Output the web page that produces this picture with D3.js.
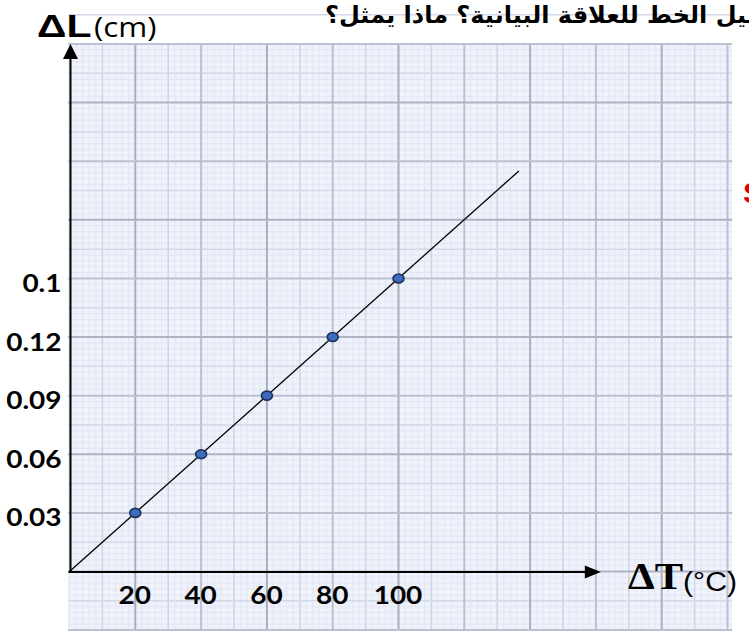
<!DOCTYPE html>
<html>
<head>
<meta charset="utf-8">
<script src="https://cdn.jsdelivr.net/npm/d3@7"></script>
<style>
body { margin: 0; background: #fff; }
svg { display: block; }
</style>
</head>
<body>
<script>
// measured values (ΔT in °C, ΔL in cm)
var deltaT = [20, 40, 60, 80, 100];
var deltaL = [0.03, 0.06, 0.09, 0.12, 0.15];
var xTickValues = [20, 40, 60, 80, 100];
var xTickLabels = ["20", "40", "60", "80", "100"];
var yTickValues = [0.03, 0.06, 0.09, 0.12, 0.15];
var yTickLabels = ["0.03", "0.06", "0.09", "0.12", "0.1"];
// hand drawn best-fit line, from the origin up past the last point
var fitLineT = [0, 136.6];
var fitLineL = [0, 0.205];
var titleText = "ما ميل الخط للعلاقة البيانية؟ ماذا يمثل؟";

var W = 749, H = 641;
var STRETCH = 1.12; // the picture is a bit wider than tall
var TICK_FONT = "Lato, 'Liberation Sans', sans-serif";

var x = d3.scaleLinear().domain([0, 200]).range([69.5, 727.5]);
var y = d3.scaleLinear().domain([0, 0.27]).range([571.5, 44]);

var svg = d3.select("body")
    .append("svg")
    .attr("width", W)
    .attr("height", H);

// graph paper
var paper = svg.append("g").attr("class", "paper");
paper.append("rect")
    .attr("x", x(-0.45))
    .attr("y", y(0.2705))
    .attr("width", x(201.4) - x(-0.45))
    .attr("height", y(-0.03) - y(0.2705))
    .attr("fill", "#eff2fb");

var minorX = d3.range(0, 101).map(function (i) { return i * 2; });
var minorY = d3.range(-10, 91).map(function (i) { return i * 0.003; });
var majorX = d3.range(1, 11).map(function (i) { return i * 20; });
var majorY = d3.range(-1, 10).map(function (i) { return i * 0.03; });

function vLines(vals, color, width) {
    paper.selectAll(null)
        .data(vals)
        .enter()
        .append("line")
        .attr("x1", function (d) { return x(d); })
        .attr("x2", function (d) { return x(d); })
        .attr("y1", y(0.2705))
        .attr("y2", y(-0.03))
        .attr("stroke", typeof color === "function" ? color : function () { return color; })
        .attr("stroke-width", width);
}
function hLines(vals, color, width) {
    paper.selectAll(null)
        .data(vals)
        .enter()
        .append("line")
        .attr("x1", x(-0.45))
        .attr("x2", x(201.4))
        .attr("y1", function (d) { return y(d); })
        .attr("y2", function (d) { return y(d); })
        .attr("stroke", typeof color === "function" ? color : function () { return color; })
        .attr("stroke-width", width);
}
vLines(minorX, "#e2e6f3", 1);
hLines(minorY, "#e2e6f3", 1);
vLines(majorX.map(function (d) { return d - 10; }), "#d0d5e6", 1.5);
hLines(majorY.map(function (d) { return d + 0.015; }), "#d4d9ea", 1.5);
vLines(majorX, function (d) { return (d / 20) % 2 ? "#a9aebf" : "#bcc1d2"; }, 2);
hLines(majorY, function (d) { return Math.round(d / 0.03) % 2 ? "#bcc1d2" : "#aeb3c4"; }, 2);

// tick labels through d3 axes (no tick marks, no domain)
function stretchText(sel) {
    sel.each(function () {
        var t = d3.select(this);
        t.attr("x", (+t.attr("x") || 0) / STRETCH)
            .attr("transform", "scale(" + STRETCH + ",1)");
    });
}
var yAxis = d3.axisLeft(y)
    .tickValues(yTickValues)
    .tickFormat(function (d, i) { return yTickLabels[i]; })
    .tickSize(0)
    .tickPadding(8);
svg.append("g")
    .attr("transform", "translate(" + x(0) + ",0)")
    .call(yAxis)
    .attr("font-size", 25)
    .attr("font-family", TICK_FONT)
    .attr("font-weight", "bold")
    .call(function (g) { g.select(".domain").remove(); })
    .selectAll("text")
    .attr("fill", "#000")
    .attr("y", 5)
    .call(stretchText);

var xAxis = d3.axisBottom(x)
    .tickValues(xTickValues)
    .tickFormat(function (d, i) { return xTickLabels[i]; })
    .tickSize(0)
    .tickPadding(14.5);
svg.append("g")
    .attr("transform", "translate(0," + y(0) + ")")
    .call(xAxis)
    .attr("font-size", 25)
    .attr("font-family", TICK_FONT)
    .attr("font-weight", "bold")
    .call(function (g) { g.select(".domain").remove(); })
    .selectAll("text")
    .attr("fill", "#000")
    .attr("x", -1)
    .call(stretchText);

// axis arrows
var ox = x(0) + 1, oy = y(0) + 0.5;
var yTip = y(0.2705) + 1, xTip = x(161.5);
svg.append("line")
    .attr("x1", ox).attr("y1", oy)
    .attr("x2", ox).attr("y2", yTip + 12)
    .attr("stroke", "#000").attr("stroke-width", 2);
svg.append("path")
    .attr("d", "M" + ox + "," + yTip + "L" + (ox - 7.5) + "," + (yTip + 15) + "L" + (ox + 7.5) + "," + (yTip + 15) + "Z")
    .attr("fill", "#000");
svg.append("line")
    .attr("x1", x(-0.3)).attr("y1", oy)
    .attr("x2", xTip - 12).attr("y2", oy)
    .attr("stroke", "#000").attr("stroke-width", 2);
svg.append("path")
    .attr("d", "M" + xTip + "," + oy + "L" + (xTip - 16) + "," + (oy - 6.5) + "L" + (xTip - 16) + "," + (oy + 6.5) + "Z")
    .attr("fill", "#000");

// best-fit line
var line = d3.line()
    .x(function (d) { return x(d[0]); })
    .y(function (d) { return y(d[1]); });
svg.append("path")
    .datum(d3.zip(fitLineT, fitLineL))
    .attr("d", line)
    .attr("fill", "none")
    .attr("stroke", "#000")
    .attr("stroke-width", 1.3);

// data points
svg.selectAll("ellipse.pt")
    .data(d3.zip(deltaT, deltaL))
    .enter()
    .append("ellipse")
    .attr("class", "pt")
    .attr("cx", function (d) { return x(d[0]); })
    .attr("cy", function (d) { return y(d[1]); })
    .attr("rx", 5.5)
    .attr("ry", 4.5)
    .attr("fill", "#3d6bbd")
    .attr("stroke", "#1d325e")
    .attr("stroke-width", 1.6);

// axis titles
svg.append("text")
    .attr("transform", "translate(37,37) scale(1.32,1)")
    .attr("font-family", "'Liberation Sans', Arial, sans-serif")
    .attr("font-weight", "bold")
    .attr("font-size", 31)
    .attr("fill", "#000")
    .text("ΔL");
svg.append("text")
    .attr("transform", "translate(94,37) scale(" + STRETCH + ",1)")
    .attr("font-family", "'Open Sans', 'Liberation Sans', sans-serif")
    .attr("font-size", 28)
    .attr("fill", "#000")
    .text("(cm)");

var xTitle = svg.append("text")
    .attr("transform", "translate(628,589) scale(" + STRETCH + ",1)")
    .attr("fill", "#000");
xTitle.append("tspan")
    .attr("font-family", "'Liberation Serif', 'Times New Roman', serif")
    .attr("font-weight", "bold")
    .attr("font-size", 38)
    .text("ΔT");
xTitle.append("tspan")
    .attr("font-family", "'Liberation Sans', Arial, sans-serif")
    .attr("font-size", 27)
    .attr("dy", 2)
    .text("(°C)");

// question above the chart, cut off by the right edge
svg.append("text")
    .attr("x", 325)
    .attr("y", 23)
    .attr("font-family", "'DejaVu Sans', sans-serif")
    .attr("font-weight", "bold")
    .attr("font-size", 24)
    .attr("fill", "#000")
    .text(titleText);

// red letter peeking in at the right edge
svg.append("text")
    .attr("x", 743)
    .attr("y", 203)
    .attr("font-family", "'Liberation Sans', Arial, sans-serif")
    .attr("font-weight", "bold")
    .attr("font-size", 30)
    .attr("fill", "#e00000")
    .text("S");
</script>
</body>
</html>
